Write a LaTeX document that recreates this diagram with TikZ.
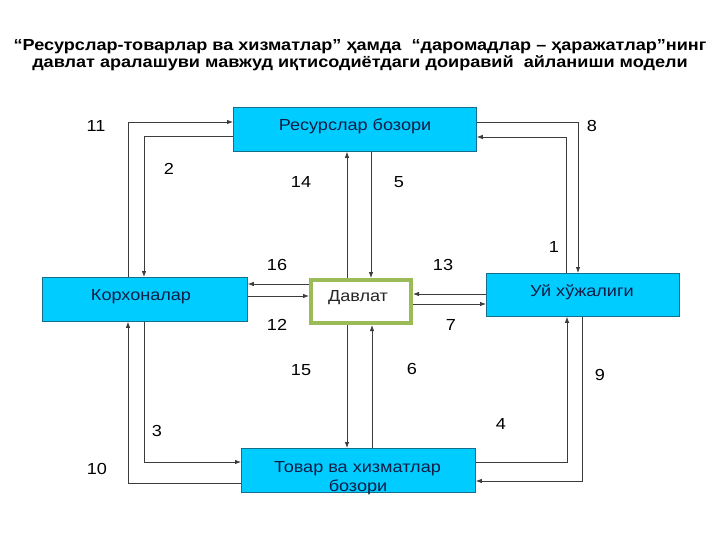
\documentclass[tikz,border=0pt]{standalone}
\usepackage{fontspec}
\setmainfont[FakeStretch=1.13]{Liberation Sans}
\usetikzlibrary{arrows.meta}
\definecolor{boxfill}{RGB}{0,204,255}
\definecolor{boxedge}{RGB}{20,110,140}
\definecolor{boxtext}{RGB}{15,30,70}
\definecolor{stategreen}{RGB}{155,187,89}
\definecolor{linegray}{RGB}{60,60,60}
\tikzset{
  market/.style={draw=boxedge, line width=0.8pt, fill=boxfill, anchor=north west, inner sep=0pt},
  boxlabel/.style={text=boxtext, font=\fontsize{16}{18}\selectfont, anchor=base, inner sep=0pt},
  flow/.style={draw=linegray, line width=0.8pt, -{Latex[length=6pt,width=4.5pt]}},
  num/.style={font=\fontsize{16}{18}\selectfont, text=black},
  titletext/.style={font=\bfseries\fontsize{16}{18}\selectfont, anchor=base, inner sep=0pt}
}
\begin{document}
\begin{tikzpicture}[x=1pt,y=-1pt]
\useasboundingbox (0,0) rectangle (720,540);
% title
\node[titletext] (title1) at (360,50.5) {“Ресурслар-товарлар ва хизматлар” ҳамда \ “даромадлар – ҳаражатлар”нинг};
\node[titletext] (title2) at (360,67.5) {давлат аралашуви мавжуд иқтисодиётдаги доиравий \ айланиши модели};
% boxes
\path (233,107) node[market, minimum width=243pt, minimum height=44pt] (rm) {};
\node[boxlabel] (rmt) at (355,131) {Ресурслар бозори};
\path (42,277) node[market, minimum width=205pt, minimum height=44pt] (fi) {};
\node[boxlabel] (fit) at (141,300) {Корхоналар};
\path (486,273) node[market, minimum width=193pt, minimum height=43pt] (hh) {};
\node[boxlabel] (hht) at (582,296) {Уй хўжалиги};
\path (241,448) node[market, minimum width=234pt, minimum height=44pt] (gm) {};
\node[boxlabel] (gmt1) at (357.5,472) {Товар ва хизматлар};
\node[boxlabel] (gmt2) at (358,491.5) {бозори};
\path (309,278) node[draw=stategreen, line width=4pt, fill=white, anchor=north west, minimum width=100pt, minimum height=43pt, inner sep=0pt] (st) {};
\node[boxlabel, text=black!85] (stt) at (358,301) {Давлат};
% coordinates for bends
\coordinate (c11a) at (128,122);
\coordinate (c2a) at (144,136);
\coordinate (c8a) at (578,122);
\coordinate (c1a) at (566,137);
\coordinate (c4a) at (567,462);
\coordinate (c9a) at (582,481);
\coordinate (c3a) at (144,462);
\coordinate (c10a) at (128,483);
% flows
\draw[flow] (fi.north west -| c11a) -- (c11a) -- (rm.west |- c11a); % 11
\draw[flow] (rm.west |- c2a) -- (c2a) -- (fi.north west -| c2a); % 2
\draw[flow] (rm.east |- c8a) -- (c8a) -- (hh.north west -| c8a); % 8
\draw[flow] (hh.north west -| c1a) -- (c1a) -- (rm.east |- c1a); % 1
\draw[flow] (st.north west -| 347,0) -- (rm.south west -| 347,0); % 14
\draw[flow] (rm.south west -| 371,0) -- (st.north west -| 371,0); % 5
\draw[flow] (st.west |- 0,284) -- (fi.east |- 0,284); % 16
\draw[flow] (fi.east |- 0,296) -- (st.west |- 0,296); % 12
\draw[flow] (hh.west |- 0,294) -- (st.east |- 0,294); % 13
\draw[flow] (st.east |- 0,304) -- (hh.west |- 0,304); % 7
\draw[flow] (st.south west -| 347,0) -- (gm.north west -| 347,0); % 15
\draw[flow] (gm.north west -| 372,0) -- (st.south west -| 372,0); % 6
\draw[flow] (gm.east |- c4a) -- (c4a) -- (hh.south west -| c4a); % 4
\draw[flow] (hh.south west -| c9a) -- (c9a) -- (gm.east |- c9a); % 9
\draw[flow] (fi.south west -| c3a) -- (c3a) -- (gm.west |- c3a); % 3
\draw[flow] (gm.west |- c10a) -- (c10a) -- (fi.south west -| c10a); % 10
% numbers
\node[num] (n11) at (96,126) {11};
\node[num] (n2) at (169,169) {2};
\node[num] (n14) at (301,182) {14};
\node[num] (n5) at (399,182) {5};
\node[num] (n8) at (592,126) {8};
\node[num] (n1) at (554,247) {1};
\node[num] (n16) at (277,265) {16};
\node[num] (n13) at (443,265) {13};
\node[num] (n12) at (277,325) {12};
\node[num] (n7) at (451,325) {7};
\node[num] (n15) at (301,370) {15};
\node[num] (n6) at (412,369) {6};
\node[num] (n9) at (600,375) {9};
\node[num] (n4) at (501,424) {4};
\node[num] (n3) at (157,431) {3};
\node[num] (n10) at (97,469) {10};
\end{tikzpicture}
\end{document}
